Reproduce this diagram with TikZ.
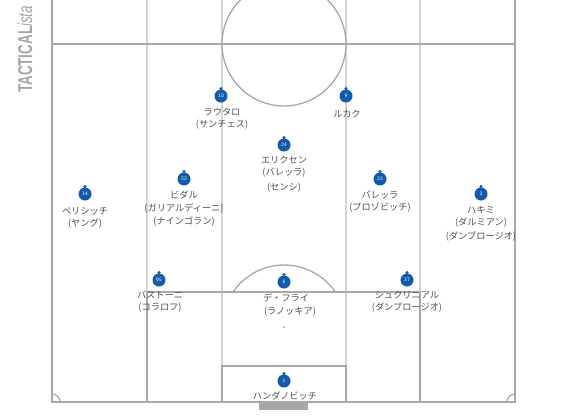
\documentclass[tikz,border=0pt]{standalone}
\usepackage{fontspec}
\setmainfont{Liberation Sans}
\newfontfamily\jpfont{Noto Sans CJK JP}
\newfontfamily\logofont{Liberation Sans}
\definecolor{pline}{RGB}{168,168,168}
\definecolor{lane}{RGB}{212,212,212}
\definecolor{pblue}{RGB}{18,90,170}
\definecolor{ptext}{RGB}{80,80,80}
\definecolor{logo}{RGB}{165,165,165}
\tikzset{
  pitch/.style={draw=pline, line width=1.3pt},
  lanes/.style={draw=lane, line width=1.1pt},
  player/.style={circle, fill=pblue, inner sep=0pt, minimum size=13pt,
     text=white, font=\sffamily\fontsize{5.2}{6}\selectfont},
  knob/.style={fill=pblue},
  pname/.style={font=\jpfont\fontsize{9.2}{12.2}\selectfont, text=ptext, align=center, inner sep=0pt},
}
\begin{document}
\begin{tikzpicture}[x=1pt,y=-1pt]
\useasboundingbox (0,0) rectangle (567,418);
\begin{scope}
\clip (0,0) rectangle (567,418);
% lanes
\foreach \x in {147,222,346,420} \draw[lanes] (\x,0) -- (\x,402);
% pitch
\draw[pitch] (52,0) -- (52,402) -- (515,402) -- (515,0);
\draw[pitch] (52,44) -- (515,44);
\draw[pitch] (284,44) circle (62);
\fill[pline] (284,44) circle (1);
\draw[pitch] (147,402) -- (147,292) -- (420,292) -- (420,402);
\draw[pitch] (222,402) -- (222,366) -- (346,366) -- (346,402);
\draw[pitch] (233,292) arc[start angle=214.4, end angle=325.6, radius=62];
\fill[pline] (284,327) circle (1);
\draw[pitch] (60,402) arc[start angle=0, end angle=-90, radius=8];
\draw[pitch] (515,394) arc[start angle=270, end angle=180, radius=8];
\fill[pline] (259,402) rectangle (308,410);
\end{scope}
% logo
\node[rotate=90, text=logo, inner sep=0pt, anchor=base west] (logo) at (32,93)
  {\scalebox{0.67}[1]{\logofont\fontsize{20}{20}\selectfont\textbf{TACTICAL}\textit{ista}}};
% players
\foreach \x/\y in {221/96, 346/96, 284/145, 184/179, 85/194,
   380/179, 481/194, 159/280, 284/282, 407/280, 284/381}{
  \fill[knob] (\x,\y-7.4) circle (1.8);
}
\node[player] (p10) at (221,96) {10};
\node[player] (p9) at (346,96) {9};
\node[player] (p24) at (284,145) {24};
\node[player] (p22) at (184,179) {22};
\node[player] (p14) at (85,194) {14};
\node[player] (p23) at (380,179) {23};
\node[player] (p2) at (481,194) {2};
\node[player] (p95) at (159,280) {95};
\node[player] (p6) at (284,282) {6};
\node[player] (p37) at (407,280) {37};
\node[player] (p1) at (284,381) {1};
% names
\node[pname] (n10) at (222,119) {ラウタロ\\(サンチェス)};
\node[pname] (n9) at (347,114) {ルカク};
\node[pname] (n24) at (284,167) {エリクセン\\(バレッラ)};
\node[pname] (n24b) at (284,188) {(センシ)};
\node[pname] (n22) at (184,202) {ビダル\\(ガリアルディーニ)};
\node[pname] (n22b) at (184,221) {(ナインゴラン)};
\node[pname] (n14) at (85,218) {ペリシッチ\\(ヤング)};
\node[pname] (n23) at (380,202) {バレッラ\\(ブロゾビッチ)};
\node[pname] (n2) at (481,217) {ハキミ\\(ダルミアン)};
\node[pname] (n2b) at (481,236) {(ダンブロージオ)};
\node[pname] (n95) at (160,302) {バストーニ\\(コラロフ)};
\node[pname] (n6) at (286,298) {デ・フライ};
\node[pname] (n6b) at (290,312) {(ラノッキア)};
\node[pname] (n37) at (407,302) {シュクリニアル\\(ダンブロージオ)};
\node[pname] (n1) at (285,396) {ハンダノビッチ};
\end{tikzpicture}
\end{document}
